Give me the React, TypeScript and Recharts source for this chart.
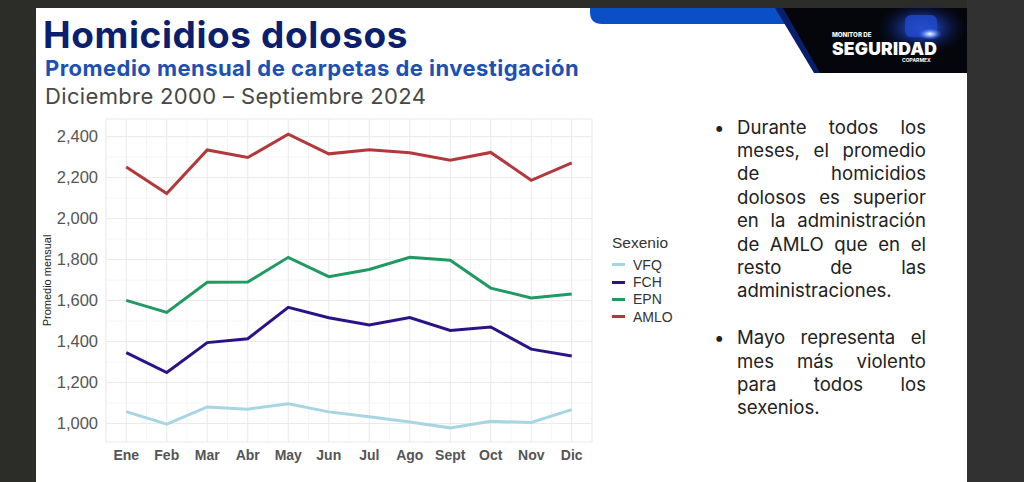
import { LineChart, Line, XAxis, YAxis, CartesianGrid, ReferenceLine, Legend, Label } from 'recharts';

// Homicidios dolosos - promedio mensual por sexenio
const months = ['Ene', 'Feb', 'Mar', 'Abr', 'May', 'Jun', 'Jul', 'Ago', 'Sept', 'Oct', 'Nov', 'Dic'];
const vfq = [1058, 997, 1081, 1070, 1097, 1057, 1033, 1008, 979, 1011, 1005, 1068];
const fch = [1346, 1249, 1395, 1414, 1567, 1516, 1481, 1517, 1454, 1471, 1363, 1330];
const epn = [1601, 1542, 1689, 1691, 1811, 1717, 1752, 1811, 1797, 1661, 1613, 1632];
const amlo = [2252, 2122, 2335, 2298, 2412, 2316, 2336, 2321, 2285, 2323, 2187, 2272];

const yTicks = [1000, 1200, 1400, 1600, 1800, 2000, 2200, 2400];
const yMinor = [1100, 1300, 1500, 1700, 1900, 2100, 2300];
const xTicks = [1, 2, 3, 4, 5, 6, 7, 8, 9, 10, 11, 12];
const xMinor = [0.5, 1.5, 2.5, 3.5, 4.5, 5.5, 6.5, 7.5, 8.5, 9.5, 10.5, 11.5, 12.5];

const series = [
  { key: 'VFQ', values: vfq, color: '#a8d5e3' },
  { key: 'FCH', values: fch, color: '#2c1287' },
  { key: 'EPN', values: epn, color: '#1f9a63' },
  { key: 'AMLO', values: amlo, color: '#b3383b' },
];
const seriesOrder = series.map(s => s.key);

const data = months.map((name, i) => {
  const row: Record<string, number | string> = { m: i + 1, name };
  series.forEach(s => (row[s.key] = s.values[i]));
  return row;
});

const bullet1 = [
  'Durante todos los',
  'meses, el promedio',
  'de homicidios',
  'dolosos es superior',
  'en la administración',
  'de AMLO que en el',
  'resto de las',
  'administraciones.',
];
const bullet2 = ['Mayo representa el', 'mes más violento', 'para todos los', 'sexenios.'];

const chartFont = '"Liberation Sans", Arial, sans-serif';
const slideFont = 'Inter, "Noto Sans", sans-serif';

function SexenioLegend(props: any) {
  const payload = [...(props.payload || [])].sort(
    (a: any, b: any) => seriesOrder.indexOf(a.value) - seriesOrder.indexOf(b.value)
  );
  return (
    <div style={{ fontFamily: chartFont, color: '#333' }}>
      <div style={{ fontSize: 15.5, lineHeight: '18px', marginBottom: 4 }}>Sexenio</div>
      {payload.map((e: any) => (
        <div key={e.value} style={{ display: 'flex', alignItems: 'center', height: 17.4, fontSize: 14 }}>
          <span style={{ display: 'inline-block', width: 13, height: 3, background: e.color, marginRight: 8 }} />
          {e.value}
        </div>
      ))}
    </div>
  );
}

function BulletBlock({ lines, top }: { lines: string[]; top: number }) {
  return (
    <div style={{ position: 'absolute', left: 714, top, width: 212, fontFamily: slideFont, fontSize: 18.6, color: '#222' }}>
      <span style={{ position: 'absolute', left: 0, top: 0, lineHeight: '23.4px' }}>•</span>
      <div style={{ marginLeft: 23 }}>
        {lines.map((t, i) => (
          <div
            key={i}
            style={{
              height: 23.4,
              lineHeight: '23.4px',
              textAlign: 'justify',
              textAlignLast: i === lines.length - 1 ? 'left' : 'justify',
              whiteSpace: 'nowrap',
            }}
          >
            {t}
          </div>
        ))}
      </div>
    </div>
  );
}

export default function App() {
  return (
    <div style={{ position: 'absolute', left: 0, top: 0, width: 1024, height: 482, background: '#2c2c28', overflow: 'hidden' }}>
      <div style={{ position: 'absolute', left: 967, top: 0, width: 57, height: 482, background: '#313131' }} />
      <div style={{ position: 'absolute', left: 36, top: 8, width: 931, height: 474, background: '#ffffff' }} />

      {/* logo banda superior */}
      <svg width={1024} height={482} style={{ position: 'absolute', left: 0, top: 0 }}>
        <defs>
          <radialGradient id="glow" cx="50%" cy="50%" r="50%">
            <stop offset="0%" stopColor="#5b86ff" stopOpacity={0.9} />
            <stop offset="45%" stopColor="#1f45c8" stopOpacity={0.55} />
            <stop offset="100%" stopColor="#0a1a60" stopOpacity={0} />
          </radialGradient>
          <radialGradient id="spot" cx="50%" cy="50%" r="50%">
            <stop offset="0%" stopColor="#ffffff" stopOpacity={1} />
            <stop offset="40%" stopColor="#8fb4ff" stopOpacity={0.8} />
            <stop offset="100%" stopColor="#2a5cff" stopOpacity={0} />
          </radialGradient>
        </defs>
        <path d="M590 8 H805 V24 H602 Q590 24 590 12 Z" fill="#0b4fc6" />
        <polygon points="775,8 967,8 967,73 814,73" fill="#0a1f6b" />
        <polygon points="783,8 967,8 967,73 820,73" fill="#05060c" />
        <ellipse cx={922} cy={28} rx={44} ry={26} fill="url(#glow)" />
        <rect x={905} y={15} width={32} height={22} rx={6} fill="#1f47c8" opacity={0.85} />
        <ellipse cx={930} cy={34} rx={12} ry={6} fill="url(#spot)" />
        <text x={832} y={37} fill="#fff" fontFamily={slideFont} fontWeight={800} fontSize={6.2}>MONITOR DE</text>
        <text x={832} y={54.5} fill="#fff" fontFamily={slideFont} fontWeight={900} fontSize={17.5} textLength={105}>SEGURIDAD</text>
        <text x={902} y={62} fill="#fff" fontFamily={slideFont} fontWeight={700} fontSize={5}>COPARMEX</text>
      </svg>

      <div style={{ position: 'absolute', left: 43, top: 16, fontFamily: slideFont, fontWeight: 700, fontSize: 37, lineHeight: '37px', letterSpacing: 0.6, color: '#0b1f6e', whiteSpace: 'nowrap' }}>
        Homicidios dolosos
      </div>
      <div style={{ position: 'absolute', left: 45, top: 56.5, fontFamily: slideFont, fontWeight: 700, fontSize: 22, lineHeight: '22px', letterSpacing: 0.45, color: '#1d50b3', whiteSpace: 'nowrap' }}>
        Promedio mensual de carpetas de investigación
      </div>
      <div style={{ position: 'absolute', left: 45, top: 84.5, fontFamily: slideFont, fontWeight: 400, fontSize: 22, lineHeight: '22px', letterSpacing: 0.35, color: '#474747', whiteSpace: 'nowrap' }}>
        Diciembre 2000 – Septiembre 2024
      </div>

      <div style={{ position: 'absolute', left: 36, top: 100 }}>
        <LineChart width={640} height={370} data={data} margin={{ top: 19, right: 84, bottom: 0, left: 0 }}>
          <CartesianGrid stroke="#e9e9e9" strokeWidth={1} />
          {xMinor.map(v => (
            <ReferenceLine key={'x' + v} x={v} stroke="#f3f3f3" strokeWidth={0.8} />
          ))}
          {yMinor.map(v => (
            <ReferenceLine key={'y' + v} y={v} stroke="#f3f3f3" strokeWidth={0.8} />
          ))}
          <XAxis
            dataKey="m"
            type="number"
            domain={[0.5, 12.5]}
            ticks={xTicks}
            interval={0}
            tickFormatter={(v: number) => months[v - 1]}
            axisLine={false}
            tickLine={false}
            height={28}
            tick={{ fontFamily: chartFont, fontSize: 14, fontWeight: 700, fill: '#555' }}
          />
          <YAxis
            type="number"
            domain={[910, 2486]}
            ticks={yTicks}
            interval={0}
            width={70}
            tickFormatter={(v: number) => v.toLocaleString('en-US')}
            axisLine={false}
            tickLine={false}
            tick={{ fontFamily: chartFont, fontSize: 16.5, fill: '#555' }}
          >
            <Label
              content={(p: any) => {
                const vb = p.viewBox || {};
                const cx = (vb.x || 0) + 11;
                const cy = (vb.y || 0) + (vb.height || 0) / 2;
                return (
                  <text x={cx} y={cy} transform={`rotate(-90 ${cx} ${cy})`} textAnchor="middle" dominantBaseline="central" fontFamily={chartFont} fontSize={11} fill="#222">
                    Promedio mensual
                  </text>
                );
              }}
            />
          </YAxis>
          <Legend
            layout="vertical"
            align="center"
            verticalAlign="middle"
            content={SexenioLegend}
            wrapperStyle={{ position: 'absolute', left: 576, top: 134, width: 80 }}
          />
          {series.map(s => (
            <Line
              key={s.key}
              type="linear"
              dataKey={s.key}
              name={s.key}
              stroke={s.color}
              strokeWidth={3}
              dot={false}
              isAnimationActive={false}
            />
          ))}
        </LineChart>
      </div>

      <BulletBlock lines={bullet1} top={115.7} />
      <BulletBlock lines={bullet2} top={326.3} />
    </div>
  );
}
